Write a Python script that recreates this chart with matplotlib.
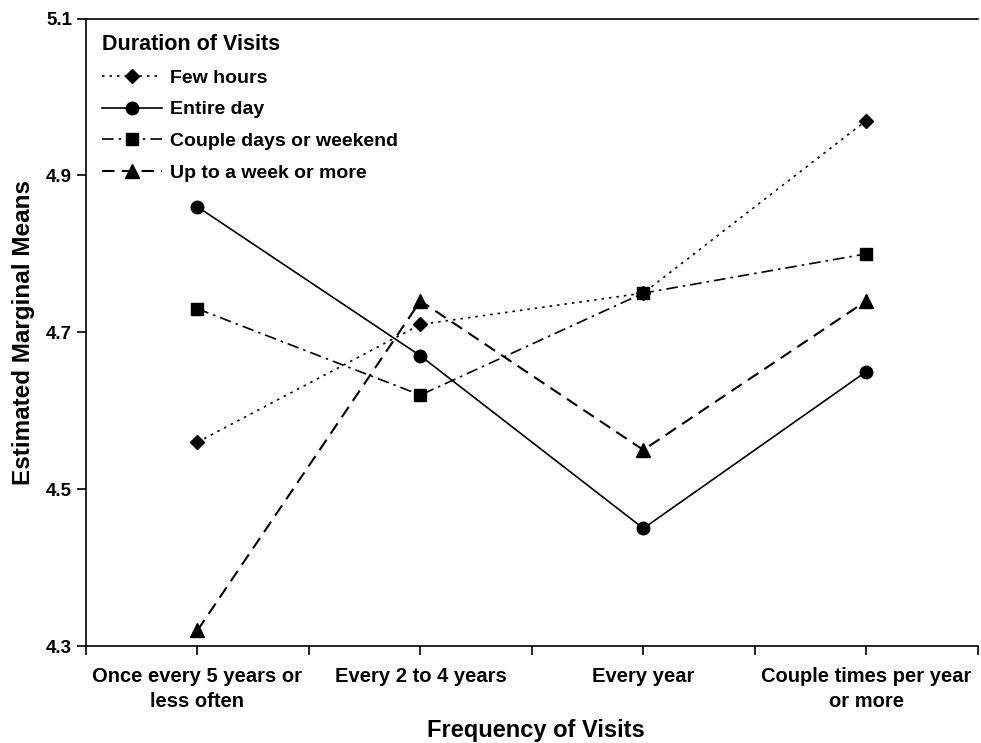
import numpy as np
import matplotlib
matplotlib.use('Agg')
import matplotlib.pyplot as plt

# frequency categories and duration groups
freq_labels = ['Once every 5 years or\nless often', 'Every 2 to 4 years',
               'Every year', 'Couple times per year\nor more']
few_hours = [4.56, 4.71, 4.75, 4.97]
entire_day = [4.86, 4.67, 4.45, 4.65]
couple_days = [4.73, 4.62, 4.75, 4.80]
up_to_week = [4.32, 4.74, 4.55, 4.74]
y_ticks = [4.3, 4.5, 4.7, 4.9, 5.1]

plt.rcParams['font.family'] = ['Liberation Sans', 'DejaVu Sans']

fig = plt.figure(figsize=(9.81, 7.43), dpi=100)
ax = fig.add_axes([0.0877, 0.1305, 0.909, 0.8445])

x = np.arange(len(freq_labels))
ax.plot(x, few_hours, color='black', lw=1.2, ls=(0, (1.5, 3)), marker='D', ms=7.5,
        label='Few hours')
ax.plot(x, entire_day, color='black', lw=1.2, ls='-', marker='o', ms=9,
        label='Entire day')
ax.plot(x, couple_days, color='black', lw=1.2, ls=(0, (7, 3, 1.5, 3)), marker='s', ms=9,
        label='Couple days or weekend')
ax.plot(x, up_to_week, color='black', lw=1.5, ls=(0, (6, 3.5)), marker='^', ms=9.5,
        label='Up to a week or more')

ax.set_xlim(-0.5, 3.5)
ax.set_ylim(4.3, 5.1)
ax.set_yticks(y_ticks)
ax.set_yticklabels([f'{v:.1f}' for v in y_ticks], fontweight='bold', fontsize=13.5)
ax.set_xticks(np.arange(-0.5, 3.6, 0.5))
ax.set_xticklabels([''] * 9)
for i, lab in enumerate(freq_labels):
    ax.text(i, -0.033, lab, transform=ax.get_xaxis_transform(), ha='center', va='top',
            fontsize=14.5, fontweight='bold', linespacing=1.45)
ax.tick_params(direction='out', length=6.5, width=1.2, colors='black')

ax.spines['right'].set_visible(False)
for s in ['left', 'top', 'bottom']:
    ax.spines[s].set_linewidth(1.2)

ax.set_ylabel('Estimated Marginal Means', fontsize=17.5, fontweight='bold', labelpad=8)
ax.text(0.505, -0.145, 'Frequency of Visits', transform=ax.transAxes, ha='center',
        va='baseline', fontsize=17, fontweight='bold')

leg = ax.legend(title='Duration of Visits', loc='upper left', frameon=False,
                prop={'weight': 'bold', 'size': 14}, handlelength=3.1,
                labelspacing=0.72, borderaxespad=0.5, handletextpad=0.4,
                borderpad=0.3)
leg.get_title().set_fontweight('bold')
leg.get_title().set_fontsize(15.5)
leg._legend_box.align = 'left'

fig.savefig('out.png', dpi=100)
